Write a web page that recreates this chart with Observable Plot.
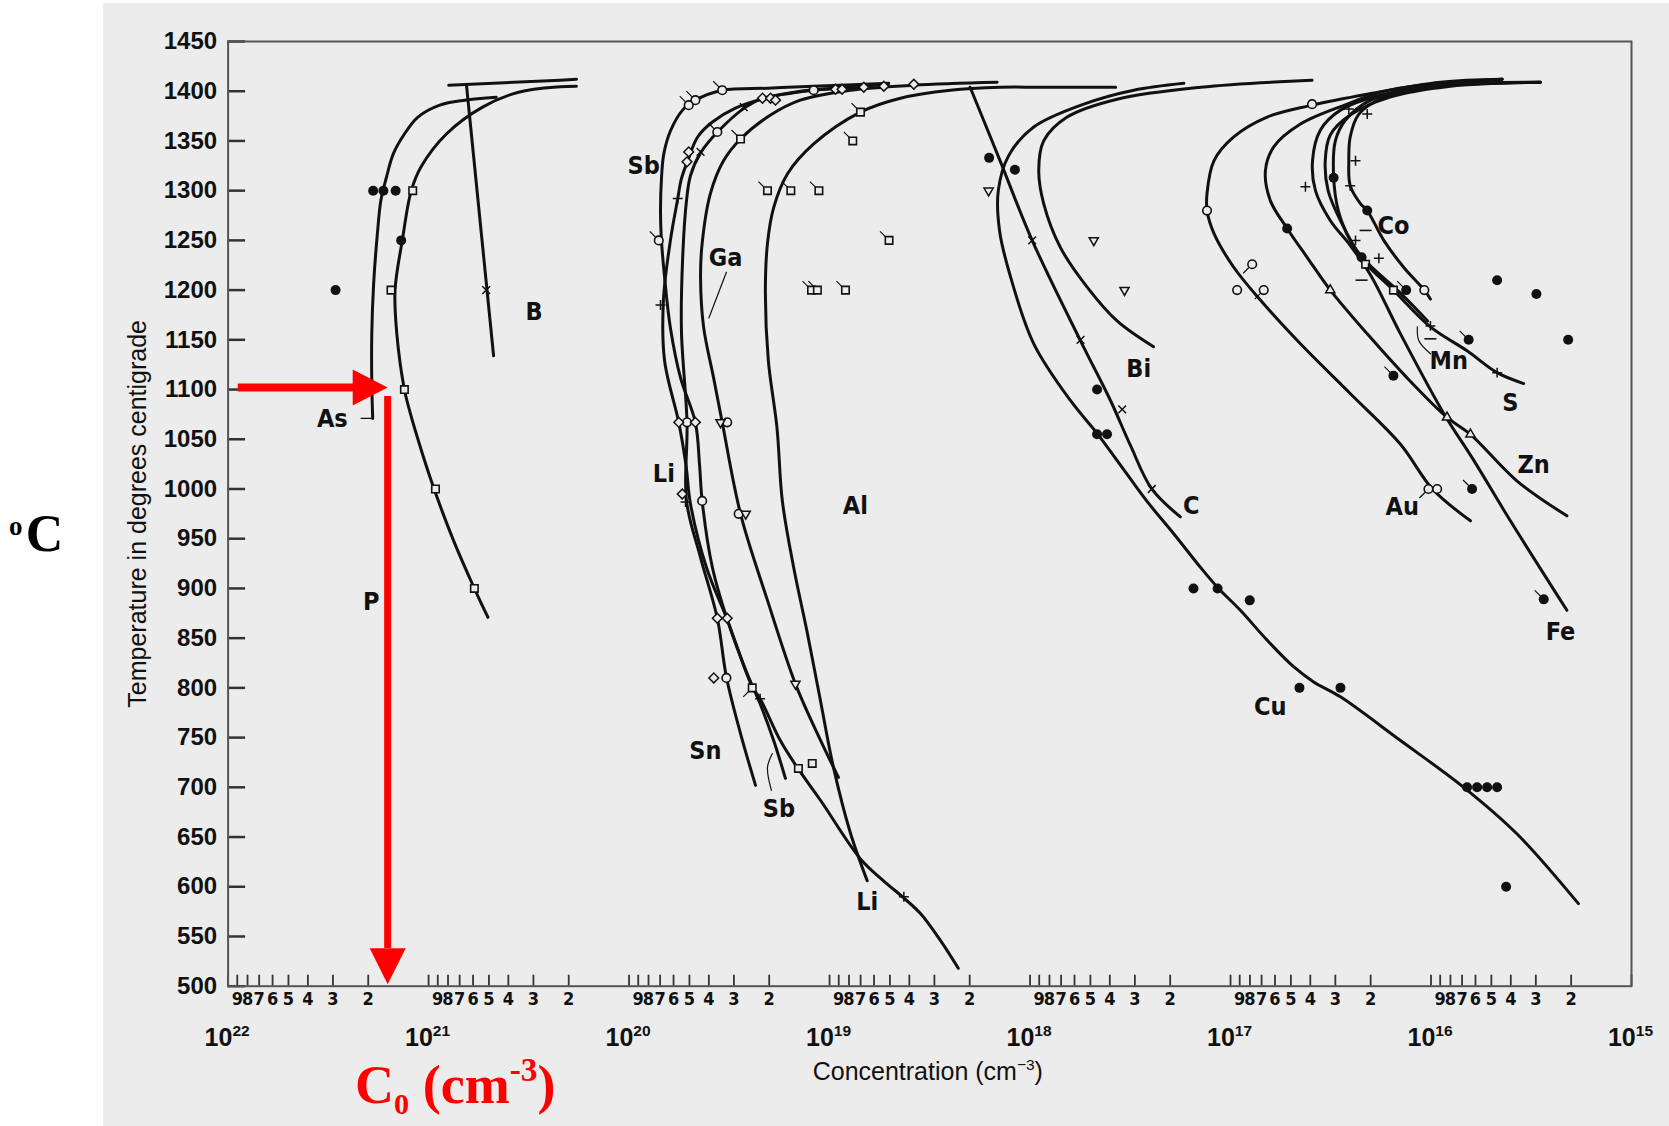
<!DOCTYPE html>
<html><head><meta charset="utf-8">
<script src="https://cdn.jsdelivr.net/npm/d3@7"></script>
<script src="https://cdn.jsdelivr.net/npm/@observablehq/plot@0.6"></script>
<style>
html,body{margin:0;padding:0;background:#fff;}
#wrap{position:relative;width:1669px;height:1126px;overflow:hidden;}
#panel{position:absolute;left:103px;top:3px;width:1566px;height:1123px;background:#ececec;}
#chart{position:absolute;left:0;top:0;}
</style></head><body>
<div id="wrap"><div id="panel"></div><div id="chart"></div></div>
<script>
// ---------- axis values ----------
const yTicks = [500,550,600,650,700,750,800,850,900,950,1000,1050,1100,1150,1200,1250,1300,1350,1400,1450];
const decadeExps = [22,21,20,19,18,17,16,15];
const minorMantissas = [2,3,4,5,6,7,8,9];
const xTitle = "Concentration (cm^{−3})";
const yTitle = "Temperature in degrees centigrade";

// ---------- solubility curves [concentration cm^-3, temperature °C] ----------
const curveAs = [[4.60e20,1394],[6.6e20,1391],[8.8e20,1386],[1.13e21,1374],[1.32e21,1357],[1.50e21,1337],[1.62e21,1314],[1.73e21,1290],[1.80e21,1257],[1.88e21,1206],[1.92e21,1156],[1.92e21,1106],[1.90e21,1071]];
const curveP = [[1.83e20,1405],[2.2e20,1404.5],[3.56e20,1399],[5.38e20,1384],[8.15e20,1357],[1.09e21,1324],[1.22e21,1300],[1.35e21,1251],[1.47e21,1200],[1.44e21,1156],[1.32e21,1100],[1.233e21,1076],[1.091e21,1040],[9.69e20,1008],[8.46e20,975],[7.26e20,941],[6.22e20,910],[5.61e20,890],[5.06e20,871]];
const curveBTop = [[7.94e20,1406],[2.2e20,1411],[1.83e20,1412]];
const curveB = [[6.47e20,1406],[4.74e20,1134]];
const curveSb = [[5.07e18,1408],[1.20e19,1405],[2.04e19,1403],[3.42e19,1401],[4.67e19,1391],[5.41e19,1381],[6.22e19,1360],[6.71e19,1337],[6.89e19,1313],[6.97e19,1280],[6.91e19,1253],[6.65e19,1213],[6.22e19,1162],[5.54e19,1112],[4.67e19,1067],[4.45e19,1024],[4.32e19,988],[3.84e19,921],[3.23e19,868],[2.62e19,818],[2.22e19,784],[1.90e19,747],[1.66e19,709]];
const curveLi = [[5.09e18,1407],[7.87e18,1404],[1.40e19,1400],[2.09e19,1393],[2.95e19,1383],[3.84e19,1369],[4.55e19,1354],[5.06e19,1332],[5.48e19,1312],[5.74e19,1290],[6.22e19,1250],[6.74e19,1190],[6.65e19,1129],[5.65e19,1067],[5.2e19,1024],[4.94e19,985],[4.11e19,921],[3.23e19,868],[2.43e19,801],[2.22e19,789],[1.76e19,747],[1.45e19,720],[1.11e19,687],[7.01e18,628],[5.38e18,606],[4.28e18,589],[3.52e18,573],[2.80e18,546],[2.28e18,518]];
const curveSn = [[7.01e18,1404],[1.20e19,1401],[1.57e19,1398],[2.14e19,1393],[2.62e19,1384],[3.62e19,1359],[4.40e19,1338],[4.94e19,1315],[5.17e19,1290],[5.41e19,1230],[5.48e19,1159],[5.14e19,1067],[5.17e19,988],[4.40e19,931],[3.63e19,870],[3.27e19,811],[2.78e19,754],[2.34e19,702]];
const curveGa = [[1.46e18,1409],[3.82e18,1406],[7.87e18,1401],[1.40e19,1391],[1.97e19,1376],[2.78e19,1352],[3.38e19,1330],[3.93e19,1297],[4.32e19,1247],[4.40e19,1213],[4.25e19,1163],[3.79e19,1112],[3.43e19,1067],[2.78e19,975],[2.04e19,888],[1.48e19,804],[1.15e19,754],[9.03e18,710]];
const curveAl = [[3.74e17,1404],[8.87e17,1404],[1.41e18,1404],[2.50e18,1401],[4.43e18,1393],[7.01e18,1379],[1.20e19,1347],[1.62e19,1317],[1.90e19,1283],[2.04e19,1247],[2.09e19,1197],[2.02e19,1129],[1.83e19,1062],[1.72e19,988],[1.51e19,921],[1.29e19,855],[1.11e19,787],[9.56e18,720],[7.87e18,654],[6.49e18,606]];
const curveC = [[1.99e18,1404],[1.41e18,1330],[9.76e17,1250],[5.60e17,1149],[3.97e17,1089],[3.16e17,1044],[2.47e17,1000],[1.78e17,972]];
const curveCu = [[1.71e17,1408],[3.04e17,1401],[5.39e17,1387],[9.58e17,1364],[1.28e18,1335],[1.44e18,1300],[1.42e18,1260],[1.25e18,1213],[9.58e17,1146],[6.29e17,1089],[4.63e17,1056],[3.54e17,1024],[2.62e17,988],[1.92e17,955],[1.41e17,921],[1.16e17,901],[8.93e16,878],[6.57e16,848],[4.83e16,821],[3.85e16,806],[2.83e16,791],[1.42e16,747],[6.87e15,700],[3.72e15,653],[1.84e15,583]];
const curveBi = [[3.92e16,1411],[1.41e17,1404],[3.68e17,1392],[6.53e17,1374],[8.55e17,1350],[9.05e17,1320],[8.55e17,1287],[7.06e17,1243],[5.19e17,1203],[3.68e17,1169],[2.42e17,1143]];
const curveAu = [[4.42e15,1412],[8.98e15,1409],[2.08e16,1397],[3.92e16,1386],[6.57e16,1374],[9.64e16,1354],[1.21e17,1330],[1.31e17,1297],[1.31e17,1280],[1.21e17,1257],[9.64e16,1223],[7.10e16,1190],[4.48e16,1146],[2.53e16,1096],[1.42e16,1045],[9.84e15,1000],[6.36e15,968]];
const curveZn = [[4.42e15,1412],[1.13e16,1406],[1.79e16,1399],[2.62e16,1387],[4.48e16,1367],[6.09e16,1344],[6.70e16,1320],[6.33e16,1290],[5.22e16,1262],[4.15e16,1233],[3.18e16,1200],[2.08e16,1156],[1.32e16,1112],[8.32e15,1072],[6.36e15,1055],[3.72e15,1008],[2.10e15,973]];
const curveFe = [[2.85e15,1409],[8.0e15,1406],[1.79e16,1396],[2.83e16,1381],[3.56e16,1361],[3.90e16,1330],[3.77e16,1300],[3.18e16,1270],[2.53e16,1245],[2.00e16,1215],[1.42e16,1156],[8.64e15,1076],[6.13e15,1029],[4.02e15,968],[2.10e15,878]];
const curveMn = [[2.85e15,1409],[8.0e15,1405],[1.60e16,1394],[2.53e16,1376],[3.18e16,1356],[3.37e16,1330],[3.26e16,1300],[2.83e16,1270],[2.25e16,1235],[1.42e16,1197],[1.04e16,1169]];
const curveS = [[4.42e15,1412],[1.13e16,1404],[2.00e16,1391],[2.67e16,1371],[3.0e16,1350],[3.06e16,1314],[2.90e16,1280],[2.53e16,1250],[2.12e16,1227],[1.54e16,1200],[1.007e16,1163],[6.61e15,1139],[4.68e15,1117],[3.45e15,1106]];
const curveCo = [[2.85e15,1409],[8.0e15,1407],[1.27e16,1401],[1.72e16,1394],[2.29e16,1377],[2.53e16,1354],[2.57e16,1330],[2.53e16,1305],[2.25e16,1287],[2.08e16,1280],[1.72e16,1250],[1.37e16,1223],[1.08e16,1200],[1.007e16,1191]];

// label leader lines
const leaderAs = [[2.17e21,1071],[1.90e21,1071]];
const leaderGa = [[3.27e19,1218],[4.0e19,1172]];
const leaderSb = [[1.93e19,734],[2.04e19,720],[1.95e19,697]];
const leaderMn = [[1.17e16,1163],[1.15e16,1149],[1.007e16,1136]];

// ---------- data points [C, T, flag] ----------
const openCircles = [[3.43e19,1401,"ul"],[4.67e19,1391,"ul"],[5.04e19,1386,"ul"],[7.11e19,1250,"ul"],[3.63e19,1359,"ul"],
 [5.14e19,1067],[4.32e19,988],[3.24e19,1067],[2.84e19,975],[3.27e19,810],[1.20e19,1401],
 [3.92e16,1387],[1.31e17,1280],[9.27e16,1200],[6.83e16,1200,"dl"],[7.80e16,1226,"dl"],[1.03e16,1000,"dl"],[9.32e15,1000],[1.08e16,1200]];
const filledDots = [[1.89e21,1300],[1.68e21,1300],[1.46e21,1300],[1.37e21,1250],[2.91e21,1200],
 [1.60e18,1333],[1.19e18,1321],[4.63e17,1100],[4.63e17,1055],[4.13e17,1055],
 [1.53e17,900],[1.16e17,900],[8.02e16,888],[4.53e16,800],[2.83e16,800],[6.61e15,700],[5.89e15,700],[5.25e15,700],[4.68e15,700],[4.22e15,600],
 [2.74e15,889,"ul"],[5.22e16,1262],[3.06e16,1313],[2.08e16,1280],[2.22e16,1233],[1.33e16,1200,"ul"],[6.49e15,1150,"ul"],[1.54e16,1114,"ul"],
 [4.68e15,1210],[2.98e15,1196],[2.07e15,1150],[6.24e15,1000,"ul"]];
const squares = [[1.20e21,1300],[1.54e21,1200],[1.32e21,1100],[9.24e20,1000],[5.91e20,900],
 [2.78e19,1352,"ul"],[2.04e19,1300,"ul"],[1.56e19,1300,"ul"],[1.13e19,1300,"ul"],[7.66e18,1350,"ul"],[5.05e18,1250,"ul"],
 [1.23e19,1200,"ul"],[1.15e19,1200,"ul"],[8.33e18,1200,"ul"],[7.01e18,1379,"ul"],
 [2.43e19,800,"dl"],[1.43e19,719],[1.22e19,724],[2.12e16,1226],[1.54e16,1200]];
const diamonds = [[5.04e19,1339],[5.14e19,1329],[5.65e19,1067],[4.67e19,1067],[5.43e19,995],
 [9.34e18,1402],[8.66e18,1402],[6.75e18,1404],[5.36e18,1405],[3.80e18,1407],
 [2.16e19,1393],[1.97e19,1393],[1.86e19,1391],[3.63e19,870],[3.24e19,870],[3.78e19,810]];
const trianglesDown = [[3.50e19,1067],[2.62e19,975],[1.48e19,804],[1.61e18,1300],[4.81e17,1250],[3.38e17,1200]];
const trianglesUp = [[3.18e16,1200],[8.32e15,1072],[6.36e15,1055]];
const pluses = [[5.72e19,1292],[6.97e19,1185],[5.23e19,987],[2.22e19,789],[4.26e18,590],
 [4.23e16,1304],[2.38e16,1330],[2.53e16,1305],[2.57e16,1382],[2.08e16,1377],[2.38e16,1250],[1.82e16,1232],[2.05e16,1222],[1.007e16,1164],[4.68e15,1117]];
const crosses = [[2.68e19,1384],[4.40e19,1339],[5.16e20,1200],[9.76e17,1250],[5.60e17,1150],[3.47e17,1080],[2.47e17,1000]];
const dashes = [[2.12e16,1260],[2.22e16,1210],[1.007e16,1151]];

// ---------- element labels ----------
const labelText = ["B","As","P","Sb","Ga","Li","Al","Sn","Sb","Li","Bi","C","Cu","Au","Co","Mn","S","Zn","Fe"];
const labelC = [2.98e20,3.02e21,1.93e21,8.45e19,3.30e19,6.71e19,7.43e18,4.16e19,1.79e19,6.49e18,2.87e17,1.57e17,6.33e16,1.39e16,1.54e16,8.16e15,4.02e15,3.08e15,2.26e15];
const labelT = [1178,1070,886,1325,1232,1015,983,737,678,585,1121,983,781,982,1264,1129,1086,1024,856];

// ---------- red annotation ----------
const c0Value = 1.6e21;          // C0 read at 1100 °C
const c0Temp = 1102;
const arrowStartC = 8.9e21;
const arrowHeadBaseC = 2.34e21;
const arrowTopT = 1093;
const arrowHeadBaseT = 538;
const arrowTipT = 502;

// ---------- layout ----------
const W = 1669, H = 1126, ML = 227.6, MR = 38, MT = 41, MB = 140.3;
const plotW = W - ML - MR, plotH = H - MT - MB;
const decPx = plotW / 7, degPx = plotH / 950;
const BG = "#ececec", INK = "#111";
const NARROW = "'Liberation Sans Narrow','Arial Narrow','DejaVu Sans Condensed',sans-serif";
const SANS = "'Liberation Sans',Arial,Helvetica,sans-serif";
const SERIF = "'Liberation Serif','Times New Roman',serif";

const curves = {As: curveAs, P: curveP, Sb: curveSb, Li: curveLi, Sn: curveSn, Ga: curveGa, Al: curveAl, C: curveC,
  Cu: curveCu, Bi: curveBi, Au: curveAu, Zn: curveZn, Fe: curveFe, Mn: curveMn, S: curveS, Co: curveCo};
const curveRows = Object.entries(curves).flatMap(([name, pts]) => pts.map(([C, T]) => ({name, C, T})));
const bRows = [...curveBTop.map(([C,T]) => ({name:"Btop", C, T})), ...curveB.map(([C,T]) => ({name:"B", C, T}))];
const leaderRows = Object.entries({As: leaderAs, Ga: leaderGa, Sb: leaderSb, Mn: leaderMn})
  .flatMap(([name, pts]) => pts.map(([C, T]) => ({name, C, T})));
const rows = arr => arr.map(([C, T, flag]) => ({C, T, flag}));
const flagLen = 9;
const flagRows = [openCircles, filledDots, squares].flatMap(rows).filter(d => d.flag).map(d => ({
  C: d.C, T: d.T, C2: d.C * Math.pow(10, flagLen / decPx), T2: d.T + (d.flag === "ul" ? 1 : -1) * flagLen / degPx
}));
const labelRows = labelText.map((t, i) => ({t, C: labelC[i], T: labelT[i]}));
const xTickValues = [];
for (const e of decadeExps) { xTickValues.push(Math.pow(10, e)); if (e > 15) for (let m = 2; m <= 9; m++) xTickValues.push(m * Math.pow(10, e - 1)); }
const digitRows = decadeExps.filter(e => e > 15).flatMap(e => minorMantissas.map(m => ({x: m * Math.pow(10, e - 1), t: String(m)})));

const headRight = {draw(ctx) { ctx.moveTo(0, 0); ctx.lineTo(-35, -18); ctx.lineTo(-35, 18); ctx.closePath(); }};
const headDown = {draw(ctx) { ctx.moveTo(0, 0); ctx.lineTo(-18, -36); ctx.lineTo(18, -36); ctx.closePath(); }};
const dashSym = {draw(ctx) { ctx.moveTo(-6, 0); ctx.lineTo(6, 0); }};

const svg = Plot.plot({
  width: W, height: H, marginLeft: ML, marginRight: MR, marginTop: MT, marginBottom: MB,
  style: {background: "transparent", overflow: "visible"},
  x: {type: "log", domain: [1e22, 1e15], axis: null},
  y: {domain: [500, 1450], axis: null},
  marks: [
    Plot.tickX(xTickValues, {x: d => d, insetTop: plotH - 11, stroke: "#333", strokeWidth: 1.8}),
    Plot.tickY(yTicks, {y: d => d, insetRight: plotW - 17.5, stroke: "#333", strokeWidth: 2.5}),
    Plot.frame({stroke: "#555", strokeWidth: 2}),
    Plot.text(yTicks, {y: d => d, text: d => String(d), frameAnchor: "left", dx: -11, textAnchor: "end", fontSize: 24, fontWeight: "bold", fontFamily: SANS, fill: INK}),
    Plot.text(digitRows, {x: "x", text: "t", frameAnchor: "bottom", dy: 19, textAnchor: "middle", fontSize: 18, fontWeight: "bold", fontFamily: NARROW, fill: INK}),
    Plot.text(decadeExps, {x: e => Math.pow(10, e), text: e => `10^{${e}}`, frameAnchor: "bottom", dy: 60, dx: -1, textAnchor: "middle", lineAnchor: "bottom", fontSize: 25, fontWeight: "bold", fontFamily: SANS, fill: INK}),
    Plot.text([xTitle], {text: d => d, frameAnchor: "bottom", dy: 94, dx: -2, textAnchor: "middle", lineAnchor: "bottom", fontSize: 25, fontFamily: SANS, fill: INK}),
    Plot.text([yTitle], {text: d => d, frameAnchor: "left", dx: -90, rotate: -90, textAnchor: "middle", fontSize: 25, fontFamily: SANS, fill: INK}),
    // curves
    Plot.line(curveRows, {x: "C", y: "T", z: "name", curve: "catmull-rom", stroke: INK, strokeWidth: 3}),
    Plot.line(bRows, {x: "C", y: "T", z: "name", stroke: INK, strokeWidth: 3}),
    Plot.line(leaderRows, {x: "C", y: "T", z: "name", curve: "catmull-rom", stroke: INK, strokeWidth: 1.2}),
    Plot.link(flagRows, {x1: "C", y1: "T", x2: "C2", y2: "T2", stroke: INK, strokeWidth: 1.2}),
    // markers
    Plot.dot(rows(filledDots), {x: "C", y: "T", r: 5, fill: INK, stroke: "none"}),
    Plot.dot(rows(openCircles), {x: "C", y: "T", r: 4.3, fill: BG, stroke: INK, strokeWidth: 1.6}),
    Plot.dot(rows(squares), {x: "C", y: "T", symbol: "square", r: 4.2, fill: BG, stroke: INK, strokeWidth: 1.6}),
    Plot.dot(rows(diamonds), {x: "C", y: "T", symbol: "square", rotate: 45, r: 3.9, fill: BG, stroke: INK, strokeWidth: 1.5}),
    Plot.dot(rows(trianglesDown), {x: "C", y: "T", symbol: "triangle", rotate: 180, r: 3.4, fill: BG, stroke: INK, strokeWidth: 1.5}),
    Plot.dot(rows(trianglesUp), {x: "C", y: "T", symbol: "triangle", r: 3.4, fill: BG, stroke: INK, strokeWidth: 1.5}),
    Plot.dot(rows(pluses), {x: "C", y: "T", symbol: "plus", r: 3.3, fill: "none", stroke: INK, strokeWidth: 1.5}),
    Plot.dot(rows(crosses), {x: "C", y: "T", symbol: "times", r: 3.6, fill: "none", stroke: INK, strokeWidth: 1.5}),
    Plot.dot(rows(dashes), {x: "C", y: "T", symbol: dashSym, fill: "none", stroke: INK, strokeWidth: 1.6}),
    // element labels
    Plot.text(labelRows, {x: "C", y: "T", text: "t", fontSize: 25, fontWeight: "bold", fontFamily: NARROW, fill: INK}),
    // red annotation
    Plot.ruleY([c0Temp], {x1: arrowStartC, x2: arrowHeadBaseC, stroke: "#ff0000", strokeWidth: 8}),
    Plot.ruleX([c0Value], {y1: arrowTopT, y2: arrowHeadBaseT, stroke: "#ff0000", strokeWidth: 7}),
    Plot.dot([{C: c0Value, T: c0Temp}], {x: "C", y: "T", symbol: headRight, fill: "#ff0000", stroke: "none"}),
    Plot.dot([{C: c0Value, T: arrowTipT}], {x: "C", y: "T", symbol: headDown, fill: "#ff0000", stroke: "none"}),
    Plot.text(["C_{0} (cm^{-3})"], {text: d => d, frameAnchor: "bottom-left", dx: 127, dy: 117, textAnchor: "start", lineAnchor: "bottom", fontSize: 54, fontWeight: "bold", fontFamily: SERIF, fill: "#ff0000"}),
    Plot.text(["C"], {text: d => d, frameAnchor: "left", dx: -183.5, dy: 37.6, textAnchor: "middle", lineAnchor: "bottom", fontSize: 52, fontWeight: "bold", fontFamily: SERIF, fill: "#000"}),
    Plot.text(["o"], {text: d => d, frameAnchor: "left", dx: -212.4, dy: 21.6, textAnchor: "middle", lineAnchor: "bottom", fontSize: 27, fontWeight: "bold", fontFamily: SERIF, fill: "#000"})
  ]
});
document.getElementById("chart").appendChild(svg);

// rich text: ^{...} superscript, _{...} subscript
function richify(root) {
  root.querySelectorAll("text").forEach(t => {
    const s = t.textContent;
    if (!/[\^_]\{/.test(s)) return;
    const fs = parseFloat(getComputedStyle(t).fontSize) || 20;
    while (t.firstChild) t.removeChild(t.firstChild);
    const re = /([\^_])\{([^}]*)\}|([^\^_]+)/g;
    let m, shift = 0;
    while ((m = re.exec(s))) {
      const ts = document.createElementNS("http://www.w3.org/2000/svg", "tspan");
      let target;
      if (m[3] !== undefined) { ts.textContent = m[3]; target = 0; }
      else {
        const sup = m[1] === "^";
        ts.textContent = m[2];
        ts.setAttribute("font-size", (sup ? 0.62 : 0.56) * fs);
        target = sup ? -0.42 * fs : 0.2 * fs;
      }
      ts.setAttribute("dy", target - shift);
      shift = target;
      t.appendChild(ts);
    }
  });
}
richify(svg);
</script></body></html>
